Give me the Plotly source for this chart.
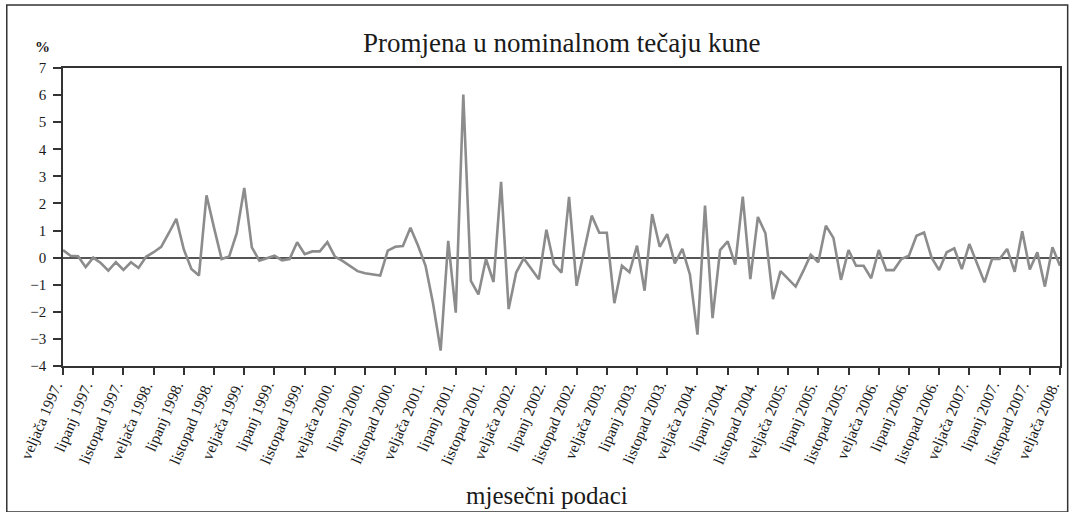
import plotly.graph_objects as go

values = [
    0.28, 0.07, 0.05, -0.35, 0.0, -0.2, -0.48, -0.17, -0.45, -0.17,
    -0.38, 0.03, 0.2, 0.4, 0.9, 1.43, 0.3, -0.42, -0.66, 2.3,
    1.1, -0.05, 0.04, 0.9, 2.57, 0.38, -0.11, -0.01, 0.07, -0.1,
    -0.05, 0.57, 0.13, 0.23, 0.23, 0.57, 0.04, -0.12, -0.3, -0.5,
    -0.58, -0.62, -0.66, 0.26, 0.4, 0.43, 1.1, 0.45, -0.3, -1.7,
    -3.43, 0.62, -2.03, 6.02, -0.86, -1.36, -0.05, -0.9, 2.8, -1.9,
    -0.55, -0.03, -0.4, -0.8, 1.03, -0.24, -0.55, 2.24, -1.04, 0.25,
    1.55, 0.92, 0.92, -1.68, -0.3, -0.54, 0.44, -1.22, 1.61, 0.4,
    0.87, -0.21, 0.32, -0.62, -2.84, 1.92, -2.23, 0.28, 0.6, -0.26,
    2.25, -0.79, 1.5, 0.9, -1.53, -0.5, -0.8, -1.07, -0.5, 0.11,
    -0.17, 1.18, 0.73, -0.82, 0.28, -0.3, -0.3, -0.76, 0.28, -0.46,
    -0.46, -0.05, 0.07, 0.81, 0.93, 0.0, -0.46, 0.2, 0.34, -0.42,
    0.5, -0.23, -0.91, -0.05, -0.05, 0.32, -0.52, 0.97, -0.44, 0.2,
    -1.07, 0.38, -0.3,
]

month_names = ["veljača", "lipanj", "listopad"]
years = list(range(1997, 2009))
tick_labels = []
for y in years:
    for m in month_names:
        tick_labels.append(f"{m} {y}.")
tick_labels = tick_labels[:34]
tick_positions = [4 * k for k in range(len(tick_labels))]

y_ticks = list(range(-4, 8))

x = list(range(len(values)))

serif = "Liberation Serif, Times New Roman, serif"

fig = go.Figure()
fig.add_trace(go.Scatter(
    x=x, y=values, mode="lines",
    line=dict(color="#8c8c8c", width=2.6),
    hoverinfo="skip", showlegend=False,
))

annotations = [
    dict(text="Promjena u nominalnom tečaju kune", xref="paper", yref="paper",
         x=0.5005, y=1.084, showarrow=False, xanchor="center", yanchor="middle",
         font=dict(family=serif, size=27, color="#1a1a1a")),
    dict(text="<b>%</b>", xref="paper", yref="paper",
         x=-0.021, y=1.07, showarrow=False, xanchor="center", yanchor="middle",
         font=dict(family=serif, size=15, color="#1a1a1a")),
    dict(text="mjesečni podaci", xref="paper", yref="paper",
         x=0.4855, y=-0.433, showarrow=False, xanchor="center", yanchor="middle",
         font=dict(family=serif, size=25, color="#1a1a1a")),
]
for pos, lab in zip(tick_positions, tick_labels):
    annotations.append(dict(
        text=lab, x=pos, xref="x", y=-0.035, yref="paper",
        showarrow=False, textangle=-67, xanchor="right", yanchor="top",
        xshift=5, font=dict(family=serif, size=15.5, color="#1a1a1a"),
    ))

fig.update_layout(
    width=1072, height=512,
    margin=dict(l=63, r=10, t=68, b=146),
    paper_bgcolor="white", plot_bgcolor="white",
    font=dict(family=serif, color="#1a1a1a", size=14),
    xaxis=dict(
        range=[0, len(values) - 1],
        tickmode="array", tickvals=tick_positions, showticklabels=False,
        ticks="outside", ticklen=7, tickcolor="#333", tickwidth=1.5,
        showgrid=False, zeroline=False,
        showline=True, mirror=True, linecolor="#333", linewidth=1.5,
    ),
    yaxis=dict(
        range=[-4, 7], tickmode="array", tickvals=y_ticks,
        ticks="outside", ticklen=8, tickcolor="#333", tickwidth=1.5,
        ticklabelstandoff=4,
        tickfont=dict(family=serif, size=15, color="#1a1a1a"),
        showgrid=False,
        zeroline=True, zerolinecolor="#555", zerolinewidth=2,
        showline=True, mirror=True, linecolor="#333", linewidth=1.5,
    ),
    annotations=annotations,
    shapes=[
        dict(type="rect", xref="paper", yref="paper",
             x0=-0.0564, x1=1.0077, y0=-0.49, y1=1.2114,
             line=dict(color="#333", width=1.5), layer="below"),
    ],
)

fig.write_html(
    "out.html",
    config={"displayModeBar": False},
    post_script="document.body.style.margin='0px';document.body.style.overflow='hidden';",
)
